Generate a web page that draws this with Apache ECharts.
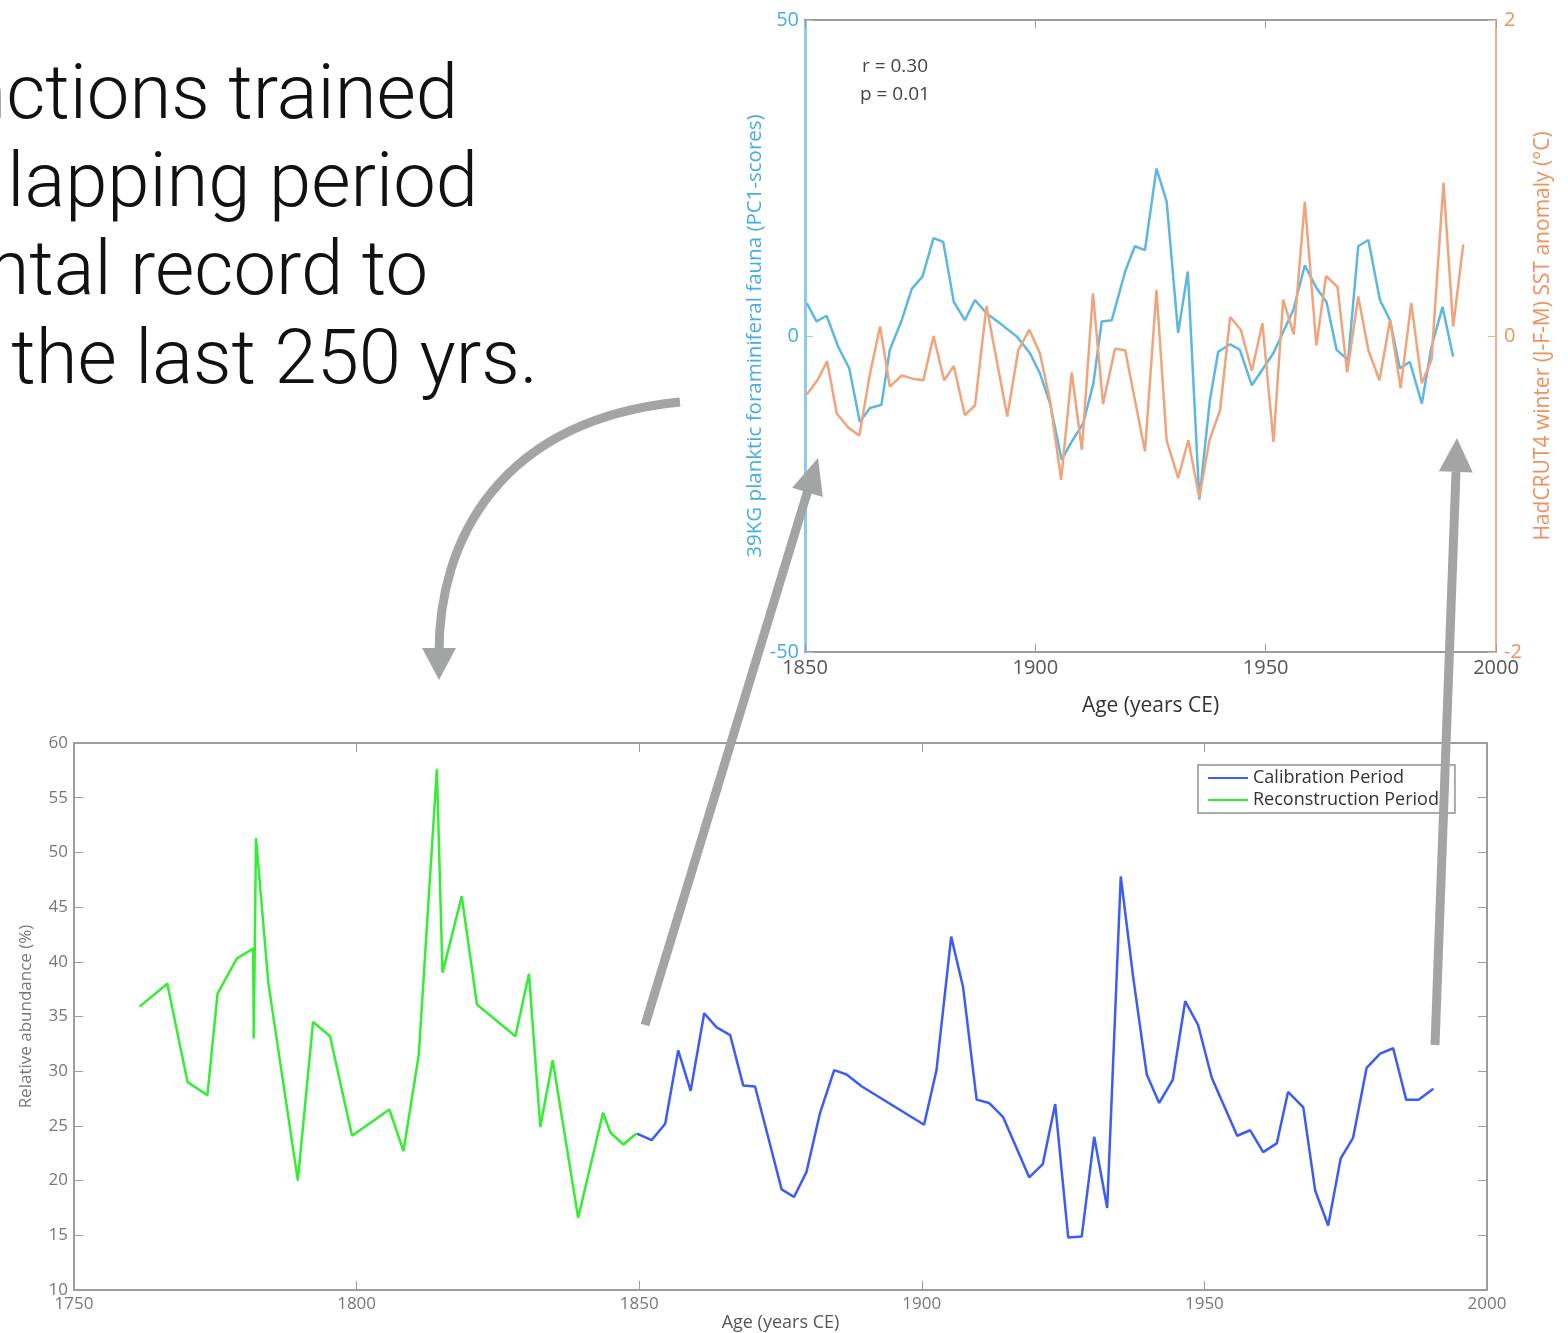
<!DOCTYPE html>
<html lang="en">
<head>
<meta charset="UTF-8">
<title>calibration and reconstruction</title>
<script src="https://cdn.jsdelivr.net/npm/echarts@6/dist/echarts.min.js"></script>
<style>
  html, body { margin: 0; padding: 0; background: #fff; }
  #main { width: 1568px; height: 1333px; }
</style>
</head>
<body>
<div id="main"></div>
<script>
// bottom panel: relative abundance (%)
const reconYears = [1761.6, 1766.5, 1770.1, 1773.6, 1775.4, 1778.8, 1781.7, 1781.8, 1782.2, 1784.4, 1789.6, 1792.3, 1795.3, 1799.2, 1805.8, 1808.3, 1811.0, 1814.2, 1815.2, 1818.6, 1821.3, 1828.1, 1830.5, 1832.5, 1834.7, 1839.2, 1843.6, 1844.9, 1847.2, 1849.5];
const reconValues = [35.9, 38.0, 29.0, 27.8, 37.1, 40.3, 41.2, 33.0, 51.3, 38.0, 20.0, 34.5, 33.2, 24.1, 26.5, 22.7, 31.5, 57.6, 39.0, 46.0, 36.1, 33.2, 38.9, 24.9, 31.0, 16.6, 26.2, 24.4, 23.3, 24.3];

const calibYears = [1849.6, 1852.2, 1854.6, 1856.9, 1859.1, 1861.5, 1863.7, 1866.1, 1868.4, 1870.5, 1875.2, 1877.4, 1879.6, 1882.0, 1884.5, 1886.7, 1889.4, 1900.4, 1902.6, 1905.2, 1907.3, 1909.7, 1911.9, 1914.4, 1919.0, 1921.4, 1923.6, 1925.9, 1928.3, 1930.5, 1932.8, 1935.2, 1937.4, 1939.8, 1942.0, 1944.4, 1946.6, 1948.9, 1951.3, 1955.8, 1958.1, 1960.4, 1962.8, 1964.8, 1967.5, 1969.6, 1971.9, 1974.1, 1976.3, 1978.7, 1981.1, 1983.4, 1985.7, 1987.9, 1990.5];
const calibValues = [24.3, 23.7, 25.2, 31.9, 28.2, 35.3, 34.0, 33.3, 28.7, 28.6, 19.2, 18.5, 20.8, 26.2, 30.1, 29.7, 28.6, 25.1, 30.1, 42.3, 37.7, 27.4, 27.1, 25.8, 20.3, 21.5, 27.0, 14.8, 14.9, 24.0, 17.5, 47.8, 38.6, 29.7, 27.1, 29.2, 36.4, 34.2, 29.4, 24.1, 24.6, 22.6, 23.4, 28.1, 26.7, 19.1, 15.9, 22.0, 23.9, 30.3, 31.6, 32.1, 27.4, 27.4, 28.4];

// top panel: PC1 scores (left axis) and SST anomaly (right axis)
const faunaYears = [1850.4, 1852.5, 1854.7, 1857.2, 1859.6, 1861.9, 1864.1, 1866.6, 1868.4, 1871.0, 1873.2, 1875.5, 1877.9, 1880.0, 1882.3, 1884.7, 1886.9, 1889.4, 1892.3, 1896.0, 1898.8, 1901.0, 1903.2, 1905.7, 1907.9, 1910.4, 1912.6, 1914.4, 1916.6, 1919.5, 1921.6, 1923.8, 1926.3, 1928.5, 1931.0, 1933.1, 1935.6, 1937.9, 1939.7, 1942.3, 1944.4, 1947.0, 1951.7, 1956.0, 1958.5, 1961.1, 1963.2, 1965.4, 1967.9, 1970.1, 1972.3, 1974.8, 1977.0, 1979.1, 1981.3, 1983.9, 1986.0, 1988.4, 1990.7];
const faunaValues = [5.2, 2.3, 3.2, -1.7, -5.1, -13.6, -11.4, -10.9, -2.2, 2.5, 7.5, 9.4, 15.5, 14.9, 5.4, 2.5, 5.7, 3.6, 2.0, -0.1, -2.7, -5.9, -10.7, -19.6, -16.7, -13.8, -7.5, 2.3, 2.5, 10.2, 14.2, 13.6, 26.5, 21.3, 0.5, 10.2, -25.9, -10.1, -2.5, -1.3, -2.2, -7.8, -2.7, 4.1, 11.2, 7.5, 5.4, -2.2, -3.8, 14.2, 15.2, 5.7, 2.5, -5.1, -4.1, -10.7, -1.7, 4.6, -3.3];

const sstYears = [1850.4, 1852.9, 1854.8, 1856.9, 1859.4, 1861.8, 1864.1, 1866.3, 1868.4, 1871.0, 1873.4, 1875.7, 1877.9, 1880.2, 1882.3, 1884.7, 1886.9, 1889.4, 1893.9, 1896.3, 1898.7, 1901.0, 1903.2, 1905.6, 1907.9, 1910.1, 1912.5, 1914.7, 1917.3, 1919.5, 1923.8, 1926.3, 1928.5, 1931.0, 1933.2, 1935.6, 1937.8, 1940.1, 1942.3, 1944.6, 1947.0, 1949.3, 1951.7, 1953.8, 1956.1, 1958.5, 1961.0, 1963.1, 1965.6, 1967.7, 1970.1, 1972.3, 1974.7, 1977.0, 1979.3, 1981.6, 1983.9, 1986.0, 1988.6, 1990.7, 1992.9];
const sstValues = [-0.37, -0.27, -0.16, -0.49, -0.58, -0.63, -0.24, 0.06, -0.32, -0.25, -0.27, -0.28, 0.0, -0.28, -0.19, -0.5, -0.44, 0.19, -0.51, -0.09, 0.04, -0.11, -0.41, -0.91, -0.23, -0.72, 0.27, -0.43, -0.08, -0.09, -0.73, 0.29, -0.66, -0.9, -0.66, -1.02, -0.66, -0.47, 0.12, 0.04, -0.22, 0.08, -0.67, 0.23, 0.01, 0.85, -0.06, 0.38, 0.31, -0.23, 0.25, -0.09, -0.28, 0.10, -0.33, 0.21, -0.30, -0.15, 0.97, 0.06, 0.58];

const slideLines = ['nctions trained', 'lapping period', 'ntal record to', ' the last 250 yrs.'];

function pairs(xs, ys) {
  return xs.map((x, i) => [x, ys[i]]);
}

const grey = '#9c9c9c';
const labelFont = 'Open Sans';
const arrowColor = '#a3a5a5';
const plain = v => String(v); // no thousands separator

let myChart = echarts.init(document.getElementById('main'));

// slide text, right edges (y = top of line box)
const lineRight = [458, 478, 428, 538];
const lineTop = [61, 149, 237, 326];
let texts = slideLines.map((t, i) => ({
  type: 'text', z: 50,
  style: {
    text: t, x: lineRight[i], y: lineTop[i],
    align: 'right', verticalAlign: 'top',
    font: '300 76px Roboto', fill: '#111'
  }
}));

// arrowheads
function head(tipX, tipY, fromX, fromY, len, half) {
  let dx = tipX - fromX, dy = tipY - fromY;
  let d = Math.sqrt(dx * dx + dy * dy);
  let ux = dx / d, uy = dy / d;
  let bx = tipX - ux * len, by = tipY - uy * len;
  return {
    type: 'polygon', z: 60,
    shape: { points: [[tipX, tipY], [bx - uy * half, by + ux * half], [bx + uy * half, by - ux * half]] },
    style: { fill: arrowColor }
  };
}

let arrows = [
  {
    type: 'bezierCurve', z: 60,
    shape: { x1: 680, y1: 402, cpx1: 500, cpy1: 420, cpx2: 438, cpy2: 540, x2: 439, y2: 655 },
    style: { stroke: arrowColor, lineWidth: 9, fill: null }
  },
  head(439, 680, 439, 600, 32, 17),
  {
    type: 'line', z: 60,
    shape: { x1: 645, y1: 1025, x2: 808, y2: 490 },
    style: { stroke: arrowColor, lineWidth: 9 }
  },
  head(818, 458, 645, 1025, 36, 16),
  {
    type: 'line', z: 60,
    shape: { x1: 1435, y1: 1045, x2: 1456, y2: 472 },
    style: { stroke: arrowColor, lineWidth: 9 }
  },
  head(1457, 438, 1435, 1045, 34, 17)
];

let stats = [
  { type: 'text', z: 50, style: { text: 'r = 0.30', x: 862, y: 67, verticalAlign: 'middle', font: '19px "Open Sans"', fill: '#444' } },
  { type: 'text', z: 50, style: { text: 'p = 0.01', x: 860, y: 95, verticalAlign: 'middle', font: '19px "Open Sans"', fill: '#444' } }
];

option = {
  backgroundColor: '#fff',
  animation: false,
  grid: [
    { left: 805, top: 20, width: 691, height: 632, outerBoundsMode: 'none' },
    { left: 74, top: 743, width: 1413, height: 547, outerBoundsMode: 'none' }
  ],
  legend: {
    data: ['Calibration Period', 'Reconstruction Period'],
    orient: 'vertical',
    left: 1198, top: 765,
    padding: [2, 16, 2, 10],
    icon: 'rect',
    itemWidth: 40, itemHeight: 2, itemGap: 0,
    backgroundColor: '#fff',
    borderColor: '#aaa', borderWidth: 2, borderRadius: 0,
    textStyle: { fontFamily: labelFont, fontSize: 18, color: '#333', lineHeight: 22 }
  },
  xAxis: [
    {
      gridIndex: 0, type: 'value', min: 1850, max: 2000, interval: 50, position: 'bottom',
      axisLine: { onZero: false, lineStyle: { color: grey, width: 2 } },
      axisTick: { inside: true, length: 8, lineStyle: { color: grey } },
      axisLabel: { color: '#555', fontSize: 20, fontFamily: labelFont, margin: 6, formatter: plain },
      splitLine: { show: false },
      name: 'Age (years CE)', nameLocation: 'middle', nameGap: 44,
      nameTextStyle: { color: '#333', fontSize: 21, fontFamily: labelFont }
    },
    {
      gridIndex: 0, type: 'value', min: 1850, max: 2000, interval: 50, position: 'top',
      axisLine: { onZero: false, lineStyle: { color: grey, width: 2 } },
      axisTick: { inside: true, length: 8, lineStyle: { color: grey } },
      axisLabel: { show: false }, splitLine: { show: false }
    },
    {
      gridIndex: 1, type: 'value', min: 1750, max: 2000, interval: 50, position: 'bottom',
      axisLine: { onZero: false, lineStyle: { color: grey, width: 2 } },
      axisTick: { inside: true, length: 9, lineStyle: { color: grey } },
      axisLabel: { color: '#777', fontSize: 17, fontFamily: labelFont, margin: 6, formatter: plain },
      splitLine: { show: false },
      name: 'Age (years CE)', nameLocation: 'middle', nameGap: 24,
      nameTextStyle: { color: '#555', fontSize: 18, fontFamily: labelFont }
    },
    {
      gridIndex: 1, type: 'value', min: 1750, max: 2000, interval: 50, position: 'top',
      axisLine: { onZero: false, lineStyle: { color: grey, width: 2 } },
      axisTick: { inside: true, length: 9, lineStyle: { color: grey } },
      axisLabel: { show: false }, splitLine: { show: false }
    }
  ],
  yAxis: [
    {
      gridIndex: 0, type: 'value', min: -50, max: 50, interval: 50, position: 'left',
      axisLine: { onZero: false, lineStyle: { color: '#8ccbee', width: 3 } },
      axisTick: { inside: true, length: 8, lineStyle: { color: '#8ccbee' } },
      axisLabel: { color: '#45ade2', fontSize: 20, fontFamily: labelFont, margin: 6 },
      splitLine: { show: false },
      name: '39KG planktic foraminiferal fauna (PC1-scores)', nameLocation: 'middle', nameGap: 37, nameRotate: 90,
      nameTextStyle: { color: '#45ade2', fontSize: 20.5, fontFamily: labelFont }
    },
    {
      gridIndex: 0, type: 'value', min: -2, max: 2, interval: 2, position: 'right',
      axisLine: { onZero: false, lineStyle: { color: '#f2b08c', width: 2 } },
      axisTick: { inside: true, length: 8, lineStyle: { color: '#f2b08c' } },
      axisLabel: { color: '#ee915f', fontSize: 20, fontFamily: labelFont, margin: 8 },
      splitLine: { show: false },
      name: 'HadCRUT4 winter (J-F-M) SST anomaly (°C)', nameLocation: 'middle', nameGap: 37, nameRotate: 90,
      nameTextStyle: { color: '#ee915f', fontSize: 21, fontFamily: labelFont }
    },
    {
      gridIndex: 1, type: 'value', min: 10, max: 60, interval: 5, position: 'left',
      axisLine: { onZero: false, lineStyle: { color: grey, width: 2 } },
      axisTick: { inside: true, length: 9, lineStyle: { color: grey } },
      axisLabel: { color: '#777', fontSize: 17, fontFamily: labelFont, margin: 6 },
      splitLine: { show: false },
      name: 'Relative abundance (%)', nameLocation: 'middle', nameGap: 39, nameRotate: 90,
      nameTextStyle: { color: '#777', fontSize: 17, fontFamily: labelFont }
    },
    {
      gridIndex: 1, type: 'value', min: 10, max: 60, interval: 5, position: 'right',
      axisLine: { onZero: false, lineStyle: { color: grey, width: 2 } },
      axisTick: { inside: true, length: 9, lineStyle: { color: grey } },
      axisLabel: { show: false }, splitLine: { show: false }
    }
  ],
  series: [
    {
      name: 'PC1', type: 'line', xAxisIndex: 0, yAxisIndex: 0,
      data: pairs(faunaYears, faunaValues), symbol: 'none',
      lineStyle: { color: '#5cb7e3', width: 2.5 }, itemStyle: { color: '#5cb7e3' }
    },
    {
      name: 'SST', type: 'line', xAxisIndex: 0, yAxisIndex: 1,
      data: pairs(sstYears, sstValues), symbol: 'none',
      lineStyle: { color: '#f0a47c', width: 2.5 }, itemStyle: { color: '#f0a47c' }
    },
    {
      name: 'Reconstruction Period', type: 'line', xAxisIndex: 2, yAxisIndex: 2,
      data: pairs(reconYears, reconValues), symbol: 'none',
      lineStyle: { color: '#33ee33', width: 2.5 }, itemStyle: { color: '#33ee33' }
    },
    {
      name: 'Calibration Period', type: 'line', xAxisIndex: 2, yAxisIndex: 2,
      data: pairs(calibYears, calibValues), symbol: 'none',
      lineStyle: { color: '#3b5cf6', width: 2.5 }, itemStyle: { color: '#3b5cf6' }
    }
  ],
  graphic: texts.concat(stats, arrows)
};

myChart.setOption(option);
</script>
</body>
</html>
